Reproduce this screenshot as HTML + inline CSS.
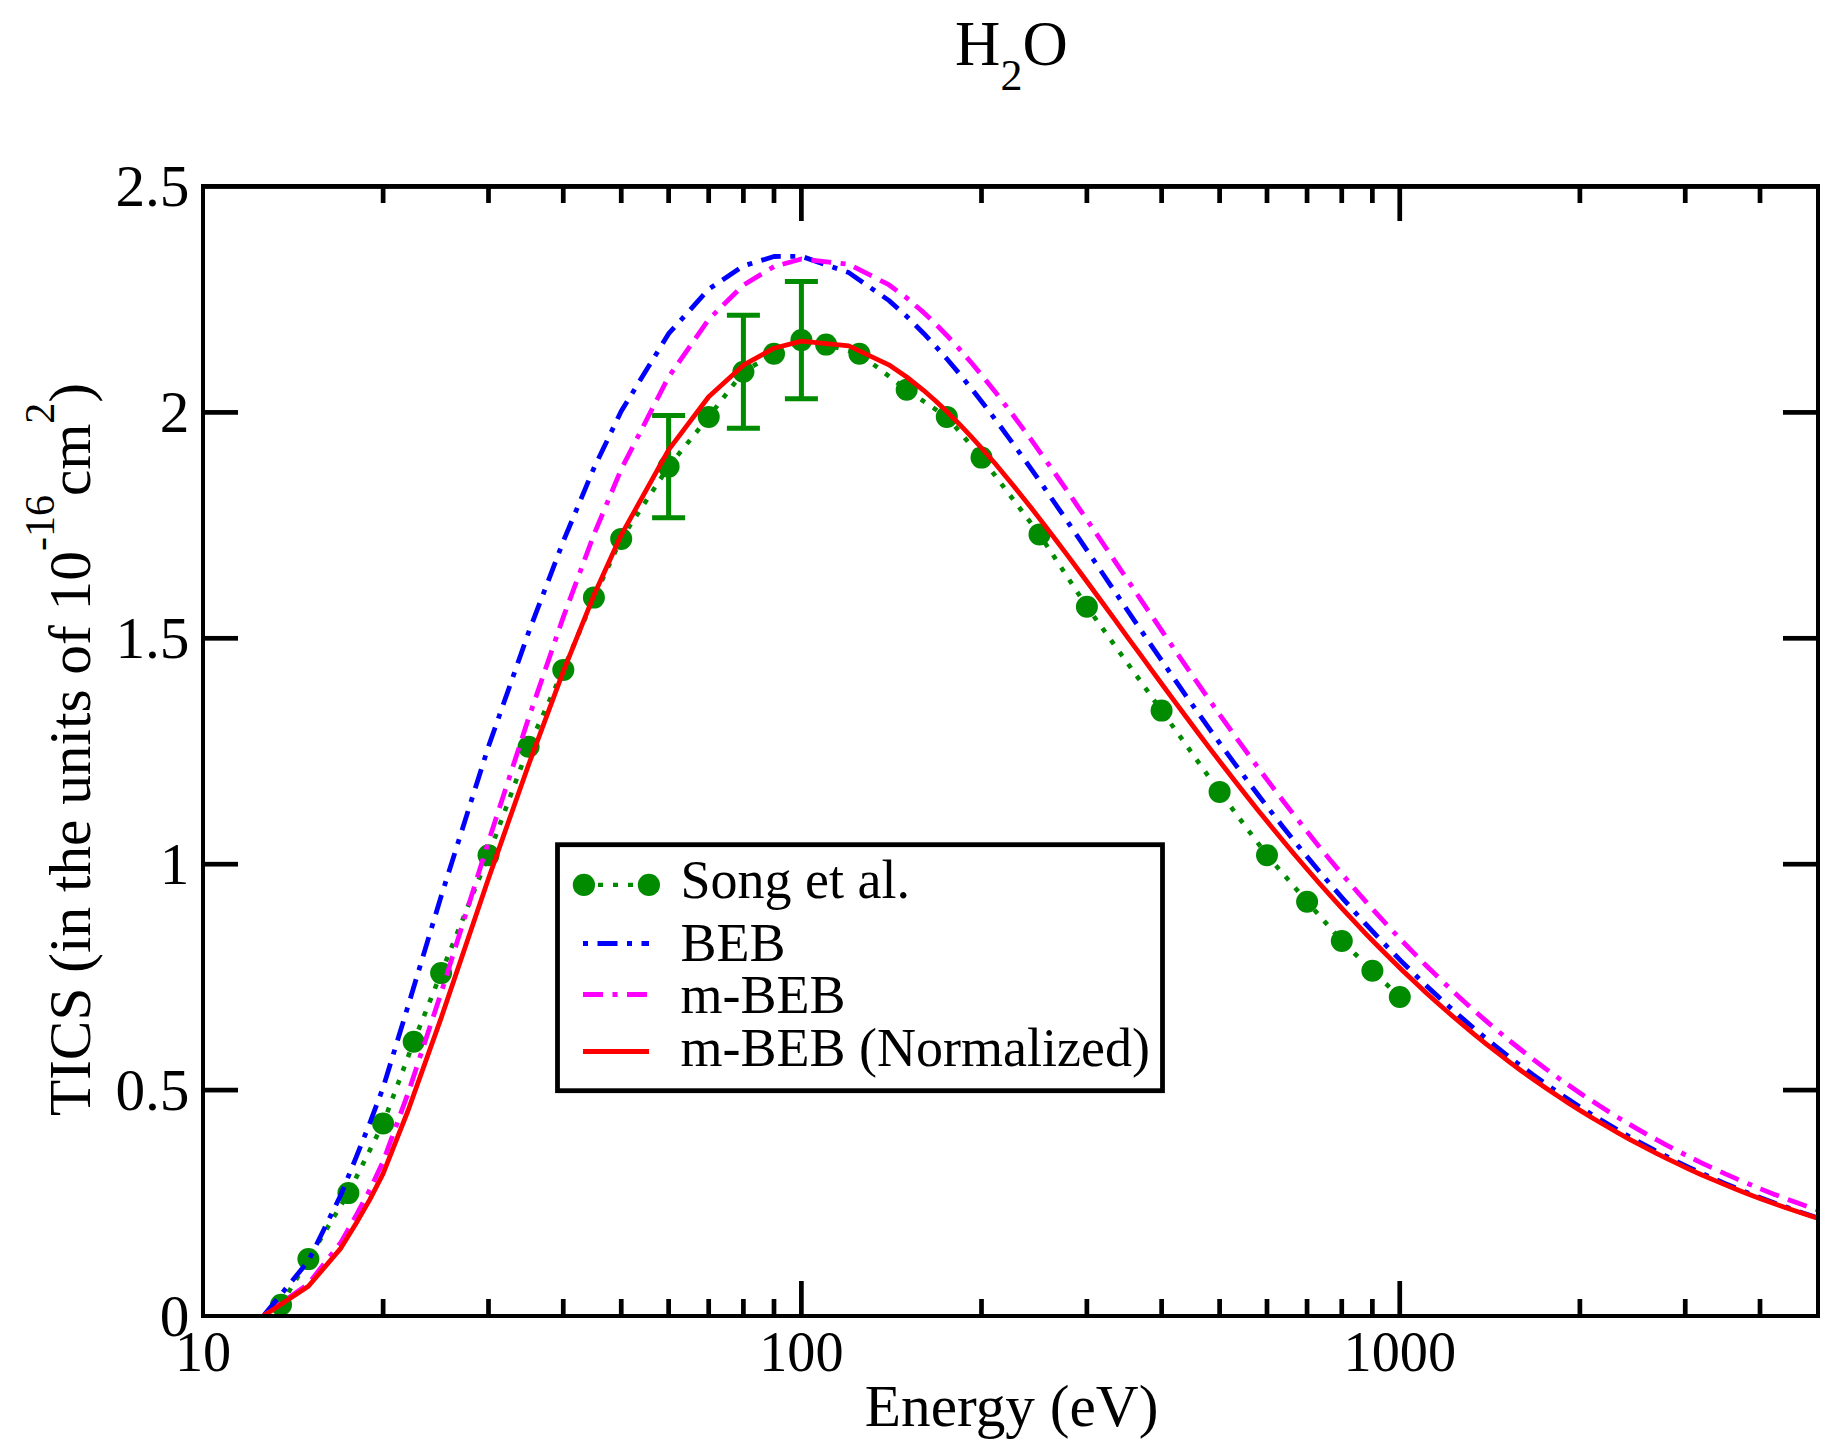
<!DOCTYPE html>
<html><head><meta charset="utf-8"><title>H2O TICS</title>
<style>html,body{margin:0;padding:0;background:#fff}svg{display:block}</style></head>
<body>
<svg width="1848" height="1451" viewBox="0 0 1848 1451">
<rect width="1848" height="1451" fill="#fff"/>
<defs><clipPath id="c"><rect x="203" y="186" width="1615" height="1130"/></clipPath></defs>
<g clip-path="url(#c)" fill="none" stroke-linejoin="round">
<path d="M281.0,1304.7 L308.4,1259.1 L348.4,1193.1 L383.1,1123.5 L413.7,1041.8 L441.1,973.1 L488.5,855.2 L528.6,746.7 L563.3,669.9 L593.9,597.6 L621.2,538.9 L668.6,466.6 L708.7,416.9 L743.4,371.7 L774.0,353.7 L801.4,340.1 L826.1,344.6 L859.4,353.7 L906.7,389.8 L946.8,416.9 L981.5,457.6 L1039.5,534.4 L1086.9,606.7 L1161.6,710.6 L1219.6,791.9 L1267.0,855.2 L1307.1,901.7 L1341.8,941.0 L1372.4,970.8 L1399.8,997.0" stroke="#008b00" stroke-width="4.6" stroke-dasharray="4.9 9.8" stroke-dashoffset="0.3"/>
<path d="M668.6,415.6 V517.7 M652.1,415.6 h33 M652.1,517.7 h33" stroke="#008b00" stroke-width="5"/>
<path d="M743.4,315.3 V428.2 M726.9,315.3 h33 M726.9,428.2 h33" stroke="#008b00" stroke-width="5"/>
<path d="M801.4,281.4 V398.8 M784.9,281.4 h33 M784.9,398.8 h33" stroke="#008b00" stroke-width="5"/>
<circle cx="281.0" cy="1304.7" r="11" fill="#008b00"/>
<circle cx="308.4" cy="1259.1" r="11" fill="#008b00"/>
<circle cx="348.4" cy="1193.1" r="11" fill="#008b00"/>
<circle cx="383.1" cy="1123.5" r="11" fill="#008b00"/>
<circle cx="413.7" cy="1041.8" r="11" fill="#008b00"/>
<circle cx="441.1" cy="973.1" r="11" fill="#008b00"/>
<circle cx="488.5" cy="855.2" r="11" fill="#008b00"/>
<circle cx="528.6" cy="746.7" r="11" fill="#008b00"/>
<circle cx="563.3" cy="669.9" r="11" fill="#008b00"/>
<circle cx="593.9" cy="597.6" r="11" fill="#008b00"/>
<circle cx="621.2" cy="538.9" r="11" fill="#008b00"/>
<circle cx="668.6" cy="466.6" r="11" fill="#008b00"/>
<circle cx="708.7" cy="416.9" r="11" fill="#008b00"/>
<circle cx="743.4" cy="371.7" r="11" fill="#008b00"/>
<circle cx="774.0" cy="353.7" r="11" fill="#008b00"/>
<circle cx="801.4" cy="340.1" r="11" fill="#008b00"/>
<circle cx="826.1" cy="344.6" r="11" fill="#008b00"/>
<circle cx="859.4" cy="353.7" r="11" fill="#008b00"/>
<circle cx="906.7" cy="389.8" r="11" fill="#008b00"/>
<circle cx="946.8" cy="416.9" r="11" fill="#008b00"/>
<circle cx="981.5" cy="457.6" r="11" fill="#008b00"/>
<circle cx="1039.5" cy="534.4" r="11" fill="#008b00"/>
<circle cx="1086.9" cy="606.7" r="11" fill="#008b00"/>
<circle cx="1161.6" cy="710.6" r="11" fill="#008b00"/>
<circle cx="1219.6" cy="791.9" r="11" fill="#008b00"/>
<circle cx="1267.0" cy="855.2" r="11" fill="#008b00"/>
<circle cx="1307.1" cy="901.7" r="11" fill="#008b00"/>
<circle cx="1341.8" cy="941.0" r="11" fill="#008b00"/>
<circle cx="1372.4" cy="970.8" r="11" fill="#008b00"/>
<circle cx="1399.8" cy="997.0" r="11" fill="#008b00"/>
<path d="M263.3,1316.0 L308.4,1261.0 L340.9,1194.8 L355.7,1158.4 L369.8,1123.1 L383.1,1087.7 L407.9,1006.5 L441.1,896.4 L488.5,746.4 L528.6,632.4 L563.3,541.3 L593.9,468.1 L621.2,411.3 L668.6,333.7 L708.7,289.2 L743.4,265.9 L774.0,256.5 L801.4,256.3 L848.8,272.6 L888.8,300.4 L906.7,316.4 L923.5,333.2 L935.4,345.9 L947.4,359.5 L959.4,373.7 L971.4,388.6 L983.3,403.7 L995.3,419.5 L1007.3,435.8 L1019.3,452.3 L1031.3,469.1 L1043.2,486.2 L1055.1,503.5 L1067.1,520.9 L1079.1,538.7 L1091.1,556.3 L1103.0,574.0 L1115.0,591.8 L1126.9,609.5 L1138.9,627.2 L1150.9,644.8 L1162.9,662.3 L1174.8,679.6 L1186.8,696.9 L1198.7,713.8 L1210.7,730.7 L1222.7,747.3 L1234.7,763.6 L1246.7,779.7 L1258.6,795.5 L1270.6,811.1 L1282.6,826.4 L1294.5,841.3 L1306.5,856.0 L1318.4,870.3 L1330.4,884.4 L1342.4,898.1 L1354.4,911.6 L1366.3,924.7 L1378.3,937.5 L1390.3,949.9 L1402.2,962.1 L1414.2,973.9 L1426.1,985.4 L1438.1,996.6 L1450.1,1007.5 L1462.1,1018.1 L1474.0,1028.4 L1486.0,1038.4 L1498.0,1048.1 L1509.9,1057.5 L1521.9,1066.6 L1533.9,1075.4 L1545.8,1084.0 L1557.8,1092.3 L1569.8,1100.3 L1581.7,1108.1 L1593.7,1115.7 L1605.7,1122.9 L1617.6,1130.0 L1629.6,1136.8 L1641.6,1143.4 L1653.5,1149.7 L1665.5,1155.9 L1677.5,1161.8 L1689.4,1167.6 L1701.4,1173.1 L1713.4,1178.5 L1725.3,1183.6 L1737.3,1188.6 L1749.3,1193.4 L1761.2,1198.1 L1773.2,1202.5 L1785.2,1206.8 L1797.1,1211.0 L1809.1,1215.0 L1818.0,1217.9" stroke="#0000ff" stroke-width="4.8" stroke-dasharray="20 9.5 5 9.5" stroke-dashoffset="42.7"/>
<path d="M263.3,1316.0 L308.4,1283.8 L340.9,1242.4 L355.7,1216.3 L369.8,1189.8 L383.1,1161.6 L407.9,1093.7 L441.1,993.0 L488.5,841.6 L528.6,718.2 L563.3,617.1 L593.9,534.6 L621.2,469.3 L668.6,376.9 L708.7,319.4 L743.4,285.1 L774.0,266.6 L801.4,259.0 L848.8,264.2 L888.8,284.7 L906.7,297.9 L923.5,312.4 L935.4,323.7 L947.4,336.0 L959.4,349.0 L971.4,362.8 L983.3,377.1 L995.3,392.1 L1007.3,407.6 L1019.3,423.6 L1031.3,439.9 L1043.2,456.6 L1055.1,473.5 L1067.1,490.7 L1079.1,508.3 L1091.1,525.8 L1103.0,543.5 L1115.0,561.3 L1126.9,579.0 L1138.9,596.8 L1150.9,614.6 L1162.9,632.3 L1174.8,649.9 L1186.8,667.4 L1198.7,684.7 L1210.7,701.9 L1222.7,718.9 L1234.7,735.6 L1246.7,752.2 L1258.6,768.4 L1270.6,784.4 L1282.6,800.2 L1294.5,815.6 L1306.5,830.8 L1318.4,845.7 L1330.4,860.2 L1342.4,874.5 L1354.4,888.5 L1366.3,902.1 L1378.3,915.4 L1390.3,928.4 L1402.2,941.1 L1414.2,953.4 L1426.1,965.5 L1438.1,977.2 L1450.1,988.6 L1462.1,999.7 L1474.0,1010.4 L1486.0,1020.9 L1498.0,1031.1 L1509.9,1041.0 L1521.9,1050.5 L1533.9,1059.8 L1545.8,1068.8 L1557.8,1077.6 L1569.8,1086.0 L1581.7,1094.2 L1593.7,1102.1 L1605.7,1109.8 L1617.6,1117.2 L1629.6,1124.4 L1641.6,1131.4 L1653.5,1138.1 L1665.5,1144.6 L1677.5,1150.9 L1689.4,1156.9 L1701.4,1162.8 L1713.4,1168.4 L1725.3,1173.9 L1737.3,1179.1 L1749.3,1184.2 L1761.2,1189.1 L1773.2,1193.9 L1785.2,1198.4 L1797.1,1202.8 L1809.1,1207.1 L1818.0,1210.1" stroke="#ff00ff" stroke-width="4.8" stroke-dasharray="20 9.5 20 9.5 5 9" stroke-dashoffset="42"/>
<path d="M263.3,1316.0 L308.4,1286.3 L340.9,1248.1 L355.7,1224.1 L369.8,1199.6 L383.1,1173.6 L407.9,1111.0 L441.1,1018.1 L488.5,878.4 L528.6,764.7 L563.3,671.4 L593.9,595.3 L621.2,535.1 L668.6,449.9 L708.7,396.8 L743.4,365.2 L774.0,348.2 L801.4,341.1 L848.8,345.9 L888.8,364.8 L906.7,377.0 L923.5,390.3 L935.4,400.8 L947.4,412.1 L959.4,424.2 L971.4,436.9 L983.3,450.0 L995.3,463.8 L1007.3,478.2 L1019.3,492.9 L1031.3,508.0 L1043.2,523.4 L1055.1,539.0 L1067.1,554.9 L1079.1,571.0 L1091.1,587.2 L1103.0,603.5 L1115.0,619.9 L1126.9,636.3 L1138.9,652.7 L1150.9,669.1 L1162.9,685.5 L1174.8,701.7 L1186.8,717.8 L1198.7,733.8 L1210.7,749.6 L1222.7,765.3 L1234.7,780.7 L1246.7,796.0 L1258.6,811.0 L1270.6,825.7 L1282.6,840.3 L1294.5,854.5 L1306.5,868.5 L1318.4,882.2 L1330.4,895.7 L1342.4,908.8 L1354.4,921.7 L1366.3,934.3 L1378.3,946.5 L1390.3,958.5 L1402.2,970.2 L1414.2,981.6 L1426.1,992.7 L1438.1,1003.5 L1450.1,1014.0 L1462.1,1024.2 L1474.0,1034.2 L1486.0,1043.8 L1498.0,1053.2 L1509.9,1062.3 L1521.9,1071.2 L1533.9,1079.7 L1545.8,1088.0 L1557.8,1096.1 L1569.8,1103.9 L1581.7,1111.4 L1593.7,1118.8 L1605.7,1125.8 L1617.6,1132.7 L1629.6,1139.3 L1641.6,1145.7 L1653.5,1151.9 L1665.5,1157.9 L1677.5,1163.7 L1689.4,1169.3 L1701.4,1174.7 L1713.4,1179.9 L1725.3,1184.9 L1737.3,1189.8 L1749.3,1194.5 L1761.2,1199.0 L1773.2,1203.3 L1785.2,1207.6 L1797.1,1211.6 L1809.1,1215.5 L1818.0,1218.3" stroke="#ff0000" stroke-width="4.8"/>
</g>
<g fill="#000">
<rect x="201" y="184" width="4" height="1134"/>
<rect x="1816" y="184" width="4" height="1134"/>
<rect x="201" y="184" width="1619" height="4.9"/>
<rect x="201" y="1314" width="1619" height="4"/>
<rect x="380.78" y="186" width="4.7" height="17"/>
<rect x="380.78" y="1299" width="4.7" height="17"/>
<rect x="486.15" y="186" width="4.7" height="17"/>
<rect x="486.15" y="1299" width="4.7" height="17"/>
<rect x="560.91" y="186" width="4.7" height="17"/>
<rect x="560.91" y="1299" width="4.7" height="17"/>
<rect x="618.90" y="186" width="4.7" height="17"/>
<rect x="618.90" y="1299" width="4.7" height="17"/>
<rect x="666.28" y="186" width="4.7" height="17"/>
<rect x="666.28" y="1299" width="4.7" height="17"/>
<rect x="706.34" y="186" width="4.7" height="17"/>
<rect x="706.34" y="1299" width="4.7" height="17"/>
<rect x="741.04" y="186" width="4.7" height="17"/>
<rect x="741.04" y="1299" width="4.7" height="17"/>
<rect x="771.65" y="186" width="4.7" height="17"/>
<rect x="771.65" y="1299" width="4.7" height="17"/>
<rect x="799.03" y="186" width="4.7" height="35"/>
<rect x="799.03" y="1281" width="4.7" height="35"/>
<rect x="979.16" y="186" width="4.7" height="17"/>
<rect x="979.16" y="1299" width="4.7" height="17"/>
<rect x="1084.52" y="186" width="4.7" height="17"/>
<rect x="1084.52" y="1299" width="4.7" height="17"/>
<rect x="1159.28" y="186" width="4.7" height="17"/>
<rect x="1159.28" y="1299" width="4.7" height="17"/>
<rect x="1217.27" y="186" width="4.7" height="17"/>
<rect x="1217.27" y="1299" width="4.7" height="17"/>
<rect x="1264.65" y="186" width="4.7" height="17"/>
<rect x="1264.65" y="1299" width="4.7" height="17"/>
<rect x="1304.71" y="186" width="4.7" height="17"/>
<rect x="1304.71" y="1299" width="4.7" height="17"/>
<rect x="1339.41" y="186" width="4.7" height="17"/>
<rect x="1339.41" y="1299" width="4.7" height="17"/>
<rect x="1370.02" y="186" width="4.7" height="17"/>
<rect x="1370.02" y="1299" width="4.7" height="17"/>
<rect x="1397.40" y="186" width="4.7" height="35"/>
<rect x="1397.40" y="1281" width="4.7" height="35"/>
<rect x="1577.53" y="186" width="4.7" height="17"/>
<rect x="1577.53" y="1299" width="4.7" height="17"/>
<rect x="1682.90" y="186" width="4.7" height="17"/>
<rect x="1682.90" y="1299" width="4.7" height="17"/>
<rect x="1757.66" y="186" width="4.7" height="17"/>
<rect x="1757.66" y="1299" width="4.7" height="17"/>
<rect x="203" y="1087.75" width="35" height="4.7"/>
<rect x="1783" y="1087.75" width="35" height="4.7"/>
<rect x="203" y="861.85" width="35" height="4.7"/>
<rect x="1783" y="861.85" width="35" height="4.7"/>
<rect x="203" y="635.95" width="35" height="4.7"/>
<rect x="1783" y="635.95" width="35" height="4.7"/>
<rect x="203" y="410.05" width="35" height="4.7"/>
<rect x="1783" y="410.05" width="35" height="4.7"/>
</g>
<g font-family="'Liberation Serif', 'Times New Roman', serif" fill="#000">
<text x="954.9" y="65" font-size="62.7">H</text>
<text x="1000.6" y="90" font-size="44">2</text>
<text x="1022.5" y="65.3" font-size="62.7">O</text>
<text x="864.8" y="1426.2" font-size="59.3">Energy (eV)</text>
<text x="203.0" y="1370.6" font-size="56.25" text-anchor="middle">10</text>
<text x="801.4" y="1370.6" font-size="56.25" text-anchor="middle">100</text>
<text x="1399.8" y="1370.6" font-size="56.25" text-anchor="middle">1000</text>
<text x="189.5" y="1335.7" font-size="59.3" text-anchor="end">0</text>
<text x="189.5" y="1109.8" font-size="59.3" text-anchor="end">0.5</text>
<text x="189.5" y="883.9" font-size="59.3" text-anchor="end">1</text>
<text x="189.5" y="658.0" font-size="59.3" text-anchor="end">1.5</text>
<text x="189.5" y="432.1" font-size="59.3" text-anchor="end">2</text>
<text x="189.5" y="206.2" font-size="59.3" text-anchor="end">2.5</text>
<g transform="translate(90,1116.1) rotate(-90)">
<text x="0" y="0" font-size="59.3">TICS (in the units of 10</text>
<text x="565" y="-36" font-size="42">-16</text>
<text x="620" y="0" font-size="59.3">cm</text>
<text x="692.4" y="-36" font-size="42">2</text>
<text x="713.3" y="0" font-size="59.3">)</text>
</g>
<rect x="557.5" y="844.7" width="605" height="246" fill="#fff" stroke="#000" stroke-width="4.8"/>
<path d="M583,884.9 H649" stroke="#008b00" stroke-width="4.4" stroke-dasharray="5 10" fill="none"/>
<circle cx="583.9" cy="884.9" r="11.1" fill="#008b00"/><circle cx="648.9" cy="884.9" r="11.1" fill="#008b00"/>
<path d="M583,943.5 H649" stroke="#0000ff" stroke-width="5" stroke-dasharray="5 9.5 20 9.5" fill="none"/>
<path d="M583,994.5 H649" stroke="#ff00ff" stroke-width="5" stroke-dasharray="20 9.5 5 9.5 20 9" fill="none"/>
<path d="M583,1051.5 H649" stroke="#ff0000" stroke-width="5" fill="none"/>
<text x="680.5" y="897.5" font-size="54">Song et al.</text>
<text x="680.5" y="961.0" font-size="54">BEB</text>
<text x="680.5" y="1013.0" font-size="54">m-BEB</text>
<text x="680.5" y="1065.5" font-size="54">m-BEB (Normalized)</text>
</g>
</svg>
</body></html>
